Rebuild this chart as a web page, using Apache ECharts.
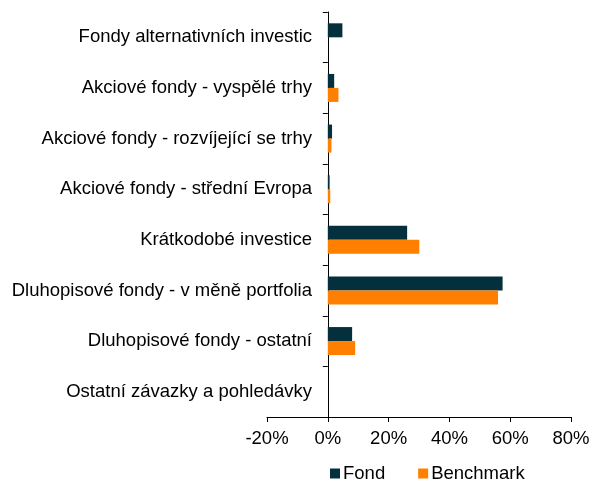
<!DOCTYPE html>
<html>
<head>
<meta charset="utf-8">
<script src="https://cdn.jsdelivr.net/npm/echarts@6/dist/echarts.min.js"></script>
<style>
  html, body { margin: 0; padding: 0; background: #fff; }
  #chart { width: 589px; height: 480px; }
</style>
</head>
<body>
<div id="chart"></div>
<script>
// kategorie shora dolu
var categories = [
  'Fondy alternativních investic',
  'Akciové fondy - vyspělé trhy',
  'Akciové fondy - rozvíjející se trhy',
  'Akciové fondy - střední Evropa',
  'Krátkodobé investice',
  'Dluhopisové fondy - v měně portfolia',
  'Dluhopisové fondy - ostatní',
  'Ostatní závazky a pohledávky'
];
var fondValues = [4.8, 2.1, 1.4, 0.6, 26.1, 57.5, 8.0, 0];
var benchmarkValues = [0, 3.5, 1.2, 0.8, 30.1, 56.0, 9.0, 0];
var xTicks = [-20, 0, 20, 40, 60, 80];

var myChart = echarts.init(document.getElementById('chart'));
var option = {
  animation: false,
  textStyle: { fontFamily: 'Liberation Sans, Arial, sans-serif' },
  grid: {
    left: 267,
    right: 18,
    top: 12,
    bottom: 63,
    containLabel: false,
    outerBoundsMode: 'none'
  },
  legend: {
    top: 459,
    left: 325,
    icon: 'rect',
    itemWidth: 10,
    itemHeight: 10,
    itemGap: 33,
    textStyle: { color: '#000', fontSize: 18.5, padding: [0, 0, 0, -2] },
    data: ['Fond', 'Benchmark']
  },
  xAxis: {
    type: 'value',
    min: xTicks[0],
    max: xTicks[xTicks.length - 1],
    interval: 20,
    splitLine: { show: false },
    axisLine: { show: true, onZero: false, lineStyle: { color: '#000', width: 1 } },
    axisTick: { show: true, length: 5, lineStyle: { color: '#000' } },
    axisLabel: {
      color: '#000',
      fontSize: 18.5,
      margin: 12,
      formatter: function (v) { return v + '%'; }
    }
  },
  yAxis: {
    type: 'category',
    inverse: true,
    data: categories,
    axisLine: { show: true, onZero: true, lineStyle: { color: '#000', width: 1 } },
    axisTick: { show: true, length: 5, lineStyle: { color: '#000' } },
    // popisky jsou u osy v nule, ne u levého okraje gridu
    axisLabel: { color: '#000', fontSize: 18.5, margin: -45 }
  },
  series: [
    {
      name: 'Fond',
      type: 'bar',
      barGap: 0,
      barWidth: 14,
      data: fondValues,
      itemStyle: { color: '#04303D' }
    },
    {
      name: 'Benchmark',
      type: 'bar',
      barWidth: 14,
      data: benchmarkValues,
      itemStyle: { color: '#FF8000' }
    }
  ]
};
myChart.setOption(option);
</script>
</body>
</html>
